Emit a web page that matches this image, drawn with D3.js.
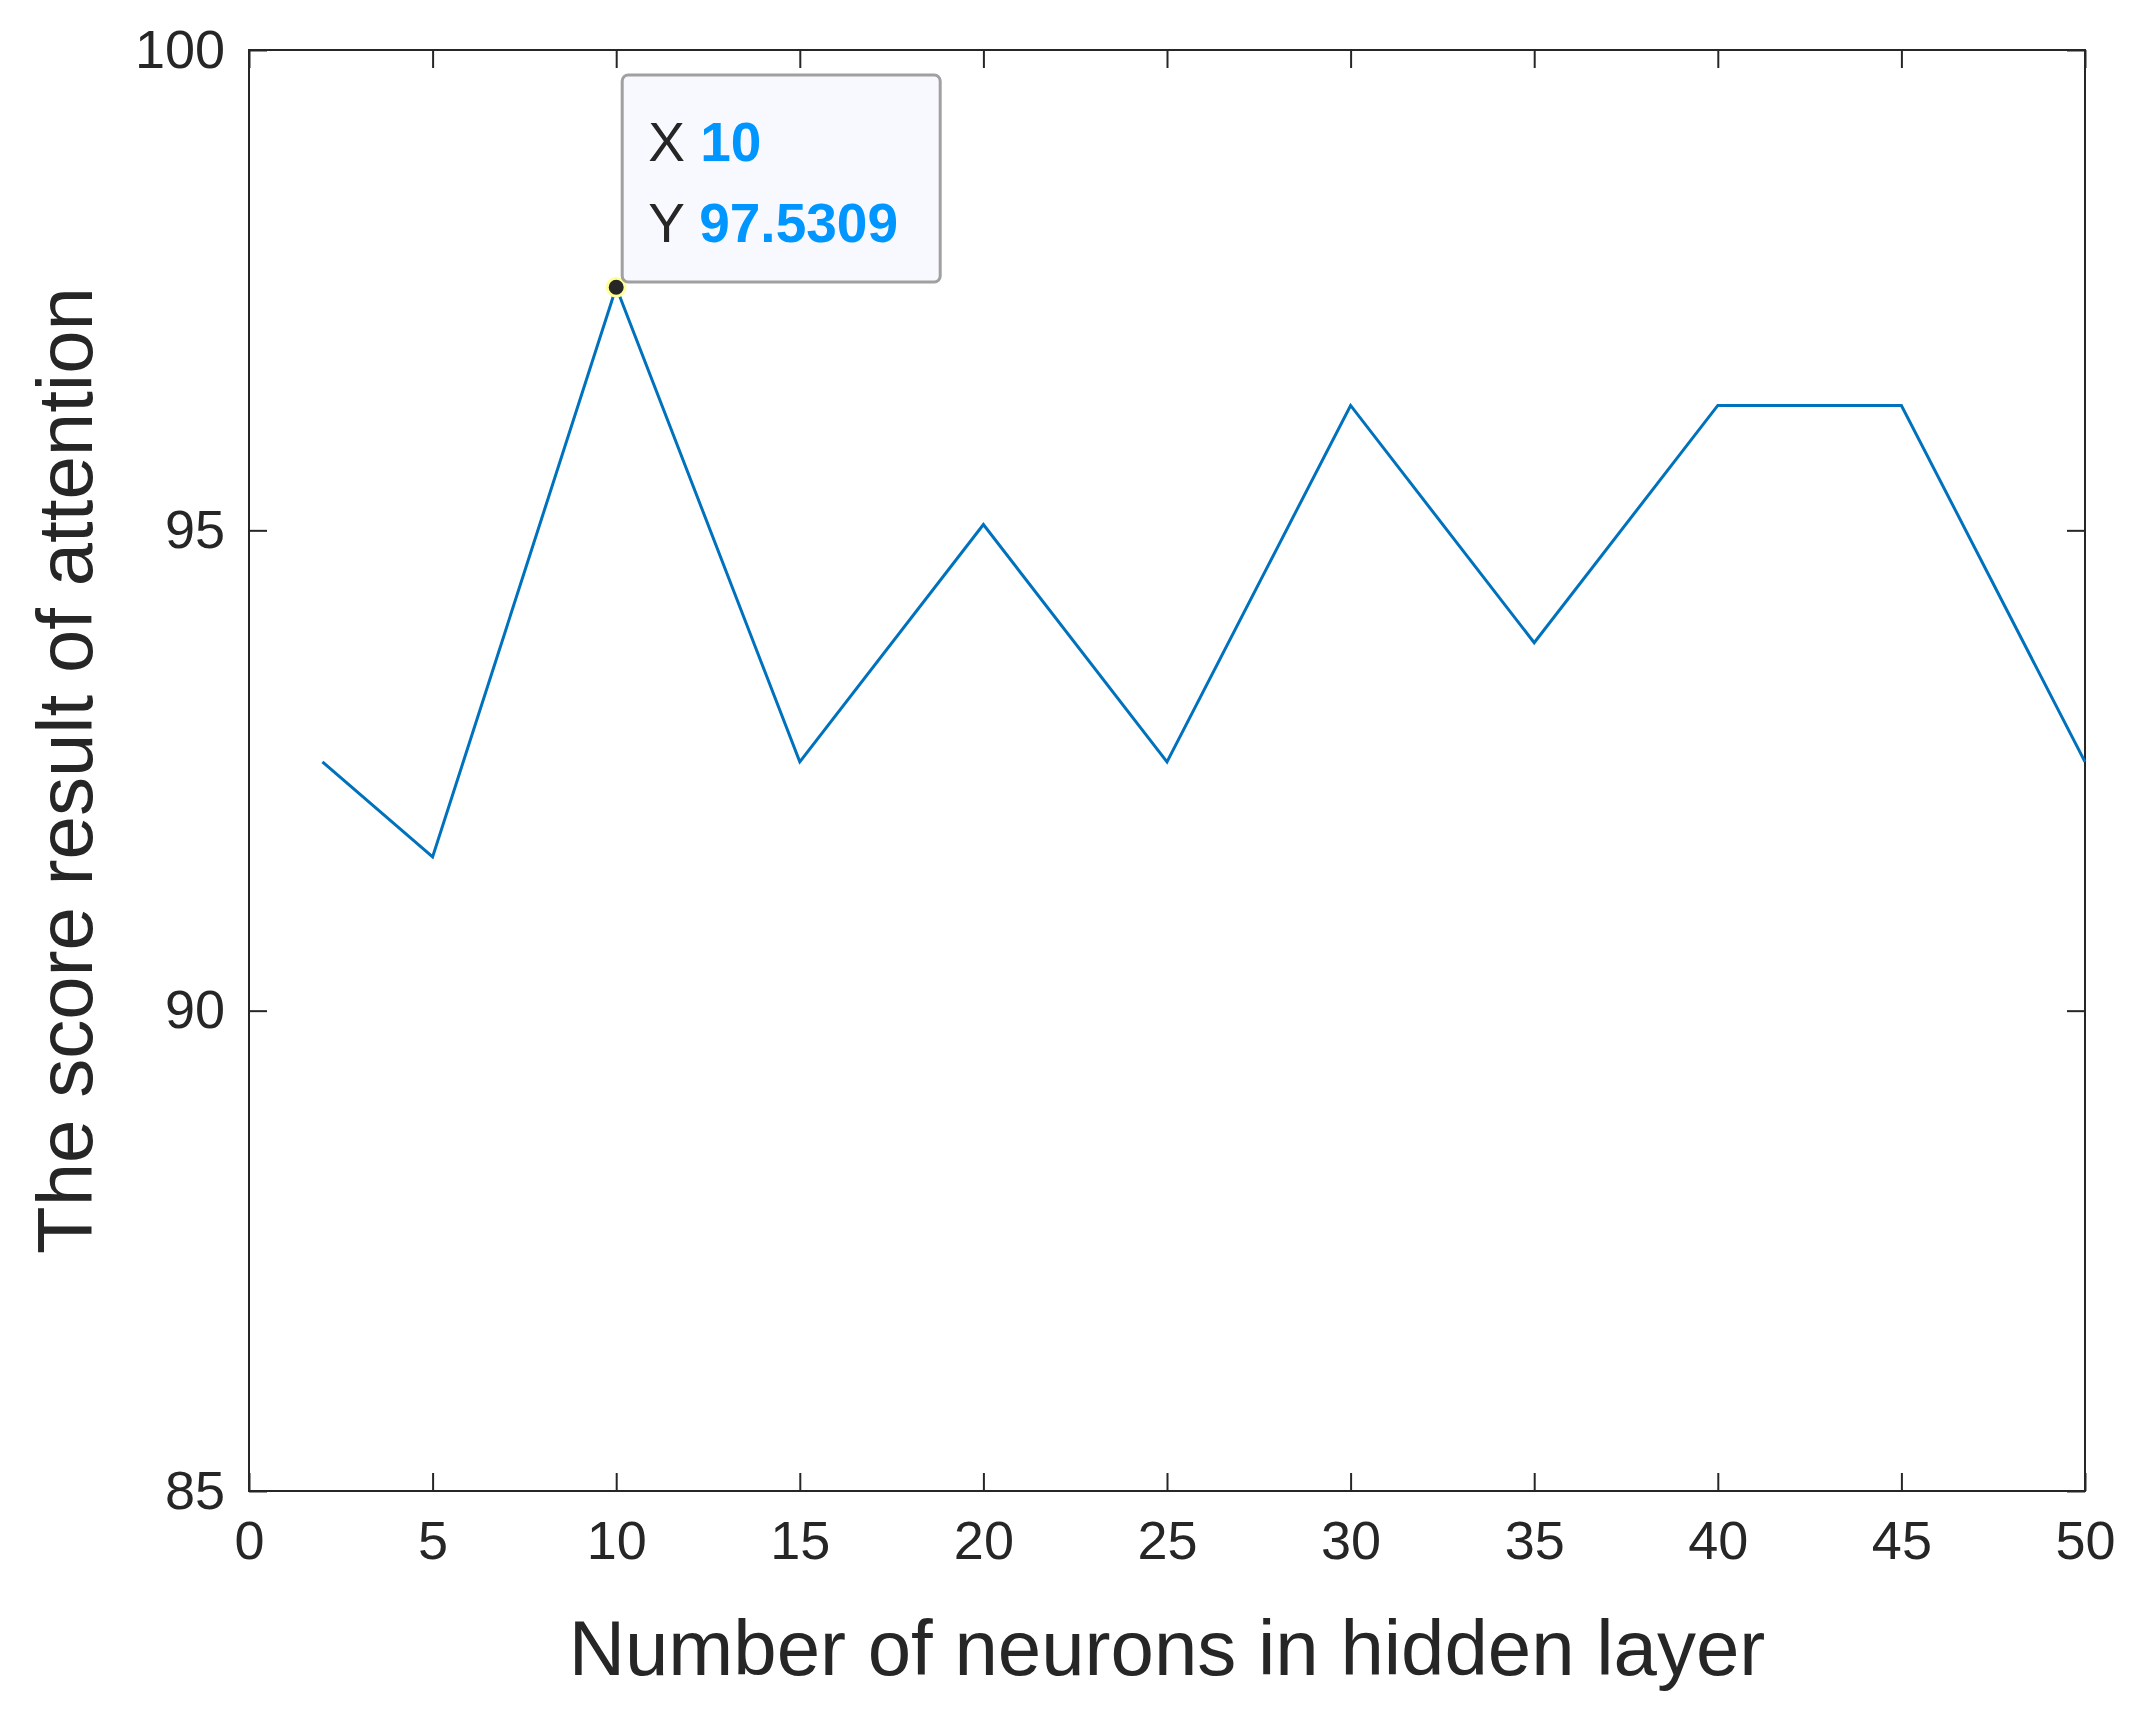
<!DOCTYPE html>
<html>
<head>
<meta charset="utf-8" />
<script src="https://cdn.jsdelivr.net/npm/d3@7"></script>
<style>
  body { margin: 0; background: #fff; }
  text { font-family: "Liberation Sans", Arial, sans-serif; fill: #262626; }
</style>
</head>
<body>
<script>
// neurons in hidden layer vs. attention score
var neurons = [2, 5, 10, 15, 20, 25, 30, 35, 40, 45, 50];
var scores = [92.59, 91.6, 97.5309, 92.59, 95.06, 92.59, 96.3, 93.83, 96.3, 96.3, 92.59];
var xTicks = [0, 5, 10, 15, 20, 25, 30, 35, 40, 45, 50];
var yTicks = [85, 90, 95, 100];
var tipIndex = 2;

var W = 2135, H = 1711;
var m = {left: 249, right: 50, top: 50, bottom: 220};
var w = W - m.left - m.right, h = H - m.top - m.bottom;

var svg = d3.select("body").append("svg").attr("width", W).attr("height", H);
var g = svg.append("g").attr("transform", "translate(" + m.left + "," + m.top + ")");

var x = d3.scaleLinear().domain([0, 50]).range([0, w]);
var y = d3.scaleLinear().domain([85, 100]).range([h, 0]);

function styleAxis(a) {
  a.select(".domain").remove();
  a.selectAll("line").attr("stroke", "#262626").attr("stroke-width", 2);
  a.selectAll("text").style("font-size", "54px").attr("fill", "#262626");
}

g.append("g").attr("transform", "translate(0," + h + ")")
  .call(d3.axisBottom(x).tickValues(xTicks).tickSizeInner(-18).tickSizeOuter(0).tickPadding(30))
  .call(styleAxis);
g.append("g").call(d3.axisTop(x).tickValues(xTicks).tickSizeInner(-18).tickSizeOuter(0).tickFormat(""))
  .call(styleAxis);
g.append("g")
  .call(d3.axisLeft(y).tickValues(yTicks).tickSizeInner(-18).tickSizeOuter(0).tickPadding(24))
  .call(styleAxis);
g.append("g").attr("transform", "translate(" + w + ",0)")
  .call(d3.axisRight(y).tickValues(yTicks).tickSizeInner(-18).tickSizeOuter(0).tickFormat(""))
  .call(styleAxis);

g.append("rect").attr("width", w).attr("height", h)
  .attr("fill", "none").attr("stroke", "#262626").attr("stroke-width", 2);

var line = d3.line().x(function (d, i) { return x(neurons[i]); }).y(function (d) { return y(d); });
g.append("path").datum(scores).attr("d", line)
  .attr("fill", "none").attr("stroke", "#0072BD").attr("stroke-width", 3);

// datatip
var tx = x(neurons[tipIndex]), ty = y(scores[tipIndex]);
g.append("circle").attr("cx", tx).attr("cy", ty).attr("r", 9)
  .attr("fill", "#262626").attr("stroke", "#ffff99").attr("stroke-width", 3);
var box = g.append("g").attr("transform", "translate(" + (tx + 6) + "," + 25 + ")");
box.append("rect").attr("width", 318).attr("height", 207).attr("rx", 6)
  .attr("fill", "#f8f8ff").attr("stroke", "#a0a0a0").attr("stroke-width", 3);
var t1 = box.append("text").attr("x", 26).attr("y", 86).style("font-size", "55px");
t1.append("tspan").text("X ");
t1.append("tspan").style("fill", "#0096FF").attr("font-weight", "bold").text(neurons[tipIndex]);
var t2 = box.append("text").attr("x", 26).attr("y", 167).style("font-size", "55px");
t2.append("tspan").text("Y ");
t2.append("tspan").style("fill", "#0096FF").attr("font-weight", "bold").text(scores[tipIndex]);

svg.append("text").attr("x", m.left + w / 2).attr("y", 1675).attr("text-anchor", "middle")
  .style("font-size", "78px").text("Number of neurons in hidden layer");
svg.append("text").attr("transform", "translate(92," + (m.top + h / 2) + ") rotate(-90)")
  .attr("text-anchor", "middle").style("font-size", "78px").text("The score result of attention");
</script>
</body>
</html>
